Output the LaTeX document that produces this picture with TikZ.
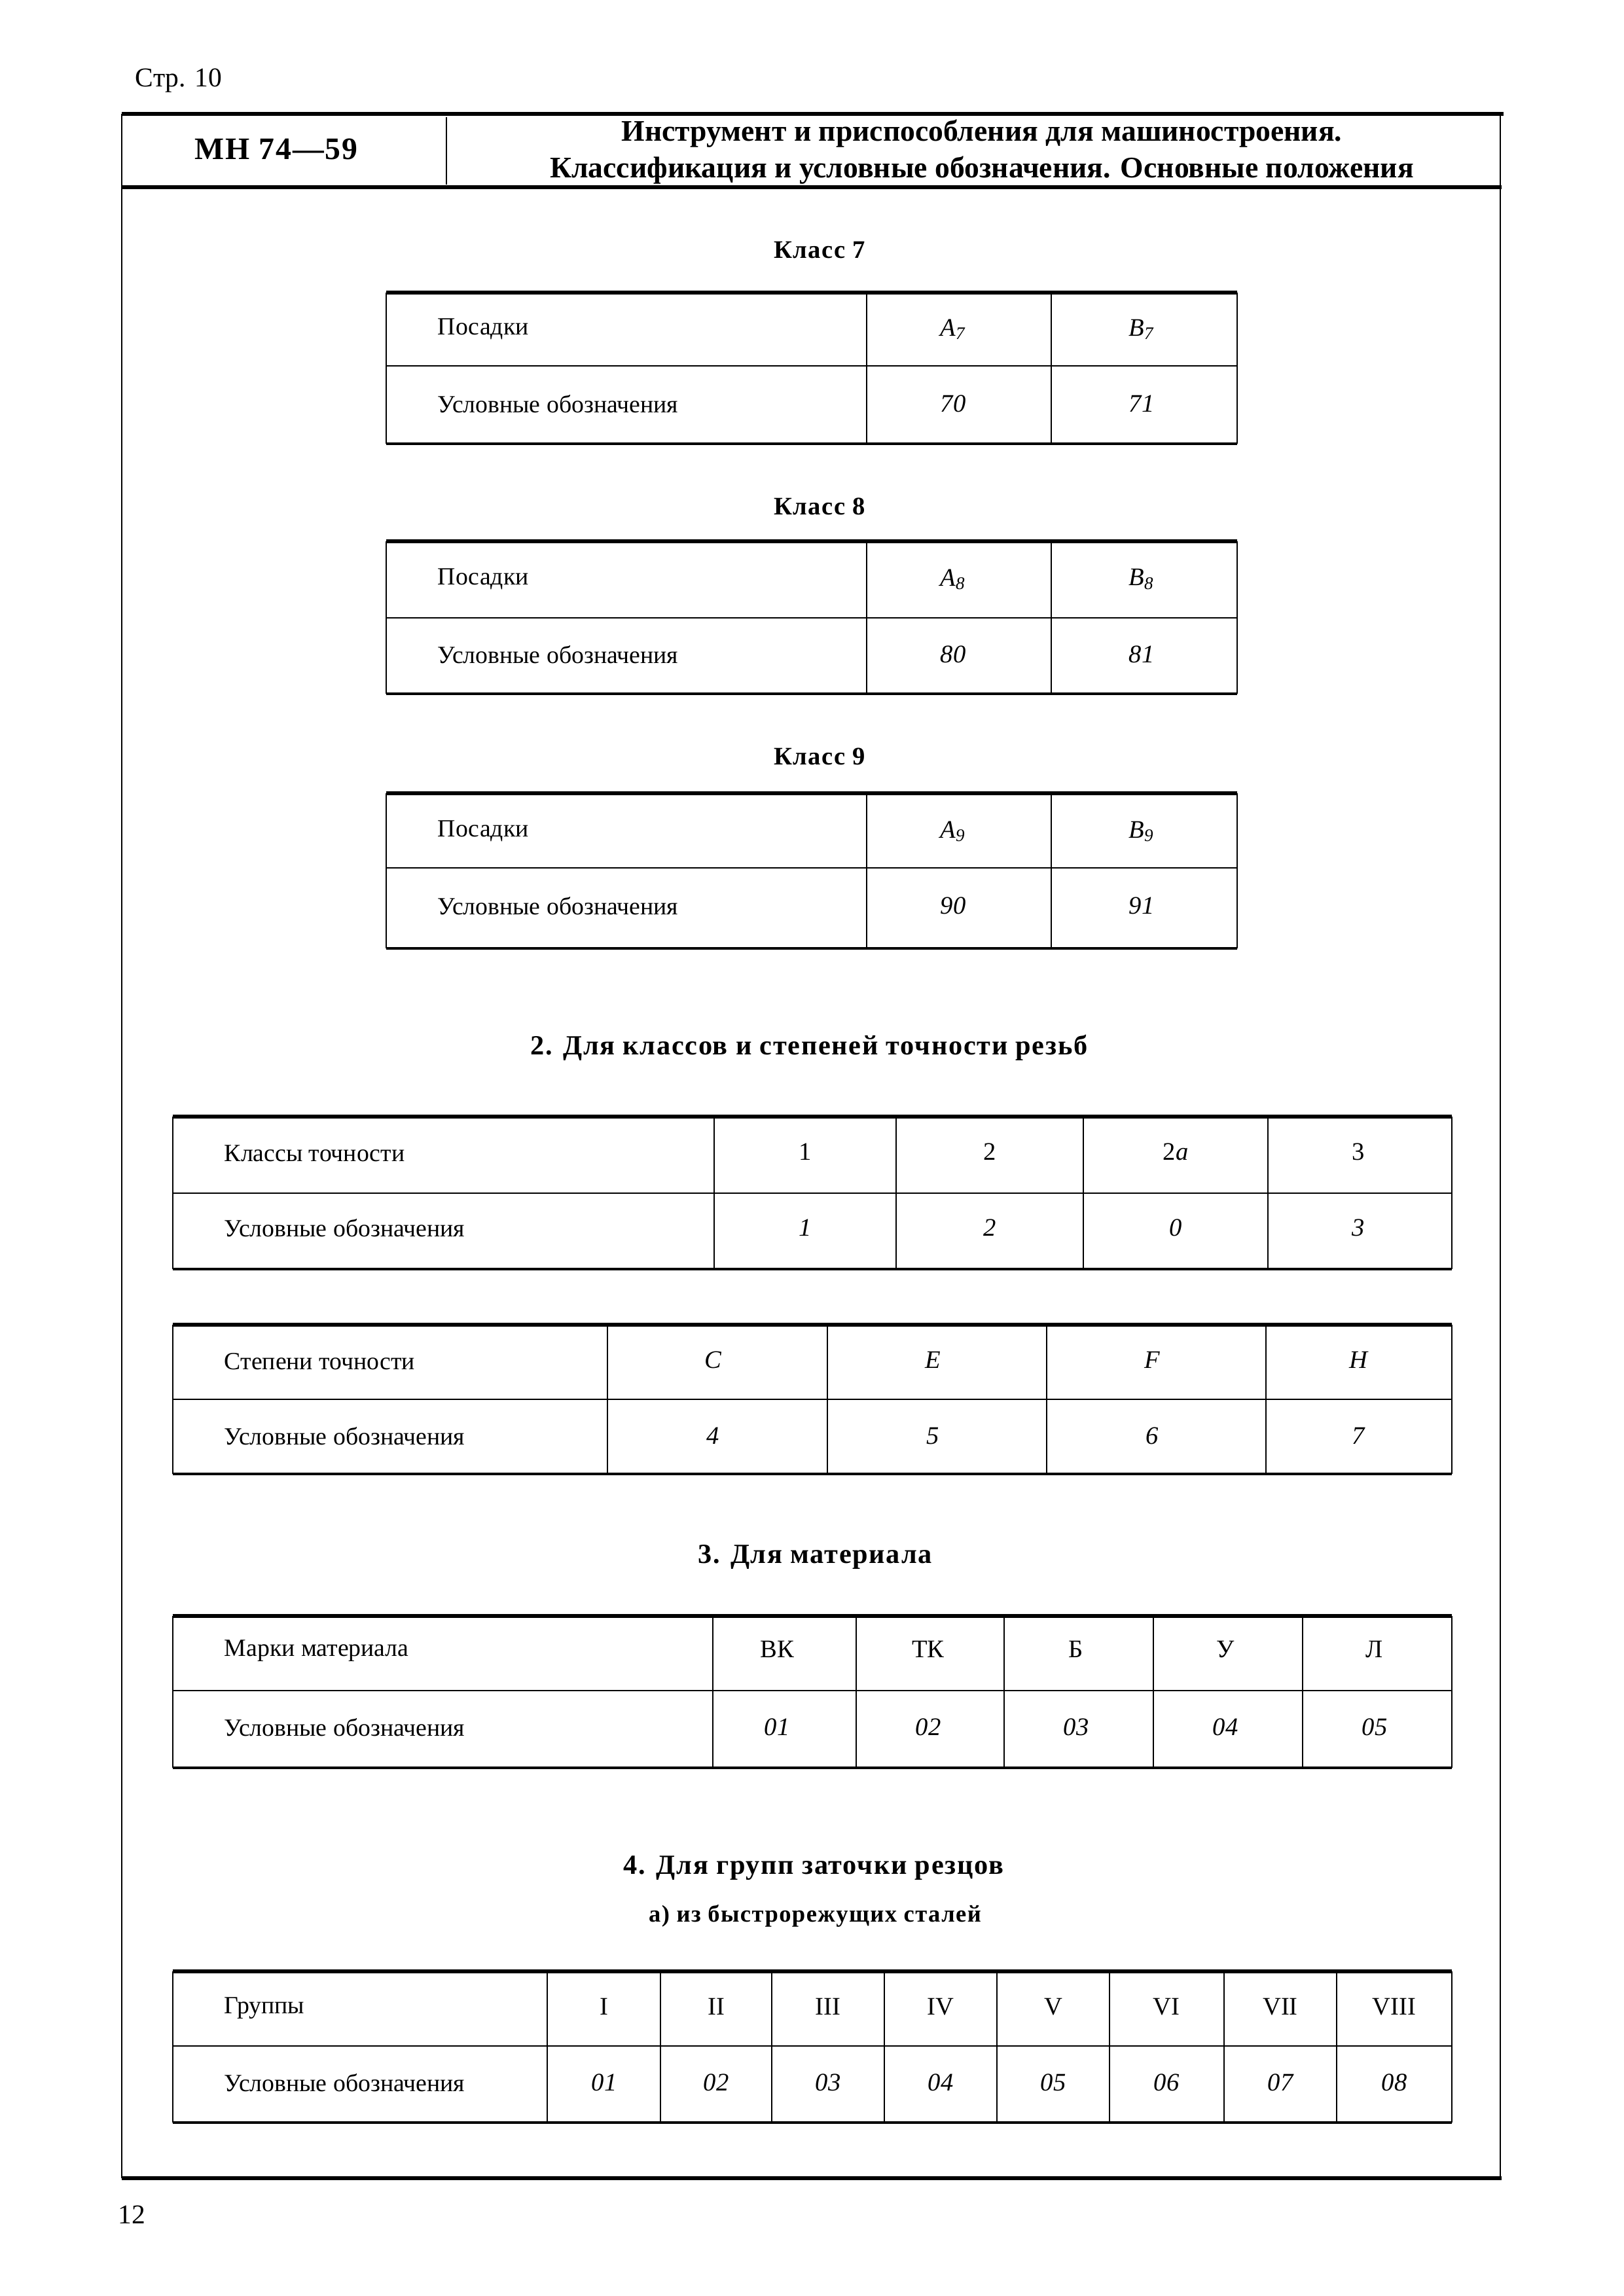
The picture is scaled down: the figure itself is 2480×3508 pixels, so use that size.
\documentclass[tikz,border=0pt]{standalone}
\usepackage{fontspec}
\setmainfont{Liberation Serif}
\newfontfamily\spfont[LetterSpace=4]{Liberation Serif}
\usepackage{tikz}

\tikzset{
  toprule/.style={line width=1.3pt},
  midrule/.style={line width=0.45pt},
  botrule/.style={line width=0.8pt},
  frame/.style={line width=0.7pt},
  lbl/.style={anchor=west, inner sep=0pt, font=\fontsize{9.1}{11}\selectfont},
  val/.style={font=\fontsize{9.3}{11}\selectfont\itshape},
  rom/.style={font=\fontsize{9.3}{11}\selectfont},
  head/.style={font=\fontsize{9.3}{12}\selectfont\spfont\bfseries},
  sect/.style={font=\fontsize{10.2}{12}\selectfont\spfont\bfseries}
}

\begin{document}
\begin{tikzpicture}[x=0.0084677cm, y=-0.0084677cm]
\useasboundingbox (0,0) rectangle (2480,3508);

% page frame and header
\node[font=\fontsize{10}{12}\selectfont] (page) at (273,123) {Стр. 10};
\draw[toprule] (186,174) -- (2297,174);
\draw[toprule] (186,286) -- (2294,286);
\draw[frame] (186,174) -- (186,3328);
\draw[frame] (2292,174) -- (2292,3328);
\draw[line width=1.5pt] (186,3328) -- (2294,3328);
\draw[frame] (682,179) -- (682,282);
\node[font=\fontsize{11.5}{14}\selectfont\spfont\bfseries] (mn) at (422,228) {МН 74—59};
\node[font=\fontsize{11}{13.5}\selectfont\bfseries, align=center] (title) at (1500,232)
  {Инструмент и приспособления для машиностроения.\\Классификация и условные обозначения. Основные положения};
\node[font=\fontsize{10}{12}\selectfont] (num) at (201,3384) {12};

% Класс 7
\node[head] (k7) at (1252,382) {Класс 7};
\draw[toprule] (590,447) -- (1890,447);
\draw[midrule] (590,559) -- (1890,559);
\draw[botrule] (590,678) -- (1890,678);
\draw[midrule] (590,447) -- (590,678);
\draw[midrule] (1324,447) -- (1324,678);
\draw[midrule] (1606,447) -- (1606,678);
\draw[midrule] (1890,447) -- (1890,678);
\node[lbl] (p7) at (668,503) {Посадки};
\node[lbl] (u7) at (668,617) {Условные обозначения};
\node[val] (a7) at (1456,503) {A\textsubscript{7}};
\node[val] (b7) at (1744,503) {B\textsubscript{7}};
\node[val] (c70) at (1456,617) {70};
\node[val] (c71) at (1744,617) {71};

% Класс 8
\node[head] (k8) at (1252,774) {Класс 8};
\draw[toprule] (590,827) -- (1890,827);
\draw[midrule] (590,944) -- (1890,944);
\draw[botrule] (590,1060) -- (1890,1060);
\draw[midrule] (590,827) -- (590,1060);
\draw[midrule] (1324,827) -- (1324,1060);
\draw[midrule] (1606,827) -- (1606,1060);
\draw[midrule] (1890,827) -- (1890,1060);
\node[lbl] (p8) at (668,885) {Посадки};
\node[lbl] (u8) at (668,1000) {Условные обозначения};
\node[val] (a8) at (1456,885) {A\textsubscript{8}};
\node[val] (b8) at (1744,885) {B\textsubscript{8}};
\node[val] (c80) at (1456,1000) {80};
\node[val] (c81) at (1744,1000) {81};

% Класс 9
\node[head] (k9) at (1252,1156) {Класс 9};
\draw[toprule] (590,1212) -- (1890,1212);
\draw[midrule] (590,1326) -- (1890,1326);
\draw[botrule] (590,1449) -- (1890,1449);
\draw[midrule] (590,1212) -- (590,1449);
\draw[midrule] (1324,1212) -- (1324,1449);
\draw[midrule] (1606,1212) -- (1606,1449);
\draw[midrule] (1890,1212) -- (1890,1449);
\node[lbl] (p9) at (668,1270) {Посадки};
\node[lbl] (u9) at (668,1384) {Условные обозначения};
\node[val] (a9) at (1456,1270) {A\textsubscript{9}};
\node[val] (b9) at (1744,1270) {B\textsubscript{9}};
\node[val] (c90) at (1456,1384) {90};
\node[val] (c91) at (1744,1384) {91};

% 2. классы и степени точности
\node[sect] (s2) at (1236,1601) {2. Для классов и степеней точности резьб};
\draw[toprule] (264,1706) -- (2218,1706);
\draw[midrule] (264,1823) -- (2218,1823);
\draw[botrule] (264,1939) -- (2218,1939);
\draw[midrule] (264,1706) -- (264,1939);
\draw[midrule] (1091,1706) -- (1091,1939);
\draw[midrule] (1369,1706) -- (1369,1939);
\draw[midrule] (1655,1706) -- (1655,1939);
\draw[midrule] (1937,1706) -- (1937,1939);
\draw[midrule] (2218,1706) -- (2218,1939);
\node[lbl] (kt) at (342,1762) {Классы точности};
\node[lbl] (ukt) at (342,1876) {Условные обозначения};
\node[rom] (k1) at (1230,1760) {1};
\node[rom] (k2) at (1512,1760) {2};
\node[rom] (k2a) at (1796,1760) {2\textit{a}};
\node[rom] (k3) at (2075,1760) {3};
\node[val] (o1) at (1230,1876) {1};
\node[val] (o2) at (1512,1876) {2};
\node[val] (o0) at (1796,1876) {0};
\node[val] (o3) at (2075,1876) {3};

\draw[toprule] (264,2024) -- (2218,2024);
\draw[midrule] (264,2138) -- (2218,2138);
\draw[botrule] (264,2252) -- (2218,2252);
\draw[midrule] (264,2024) -- (264,2252);
\draw[midrule] (928,2024) -- (928,2252);
\draw[midrule] (1264,2024) -- (1264,2252);
\draw[midrule] (1599,2024) -- (1599,2252);
\draw[midrule] (1934,2024) -- (1934,2252);
\draw[midrule] (2218,2024) -- (2218,2252);
\node[lbl] (st) at (342,2080) {Степени точности};
\node[lbl] (ust) at (342,2194) {Условные обозначения};
\node[val] (gC) at (1089,2078) {C};
\node[val] (gE) at (1425,2078) {E};
\node[val] (gF) at (1760,2078) {F};
\node[val] (gH) at (2075,2078) {H};
\node[val] (o4) at (1089,2194) {4};
\node[val] (o5) at (1425,2194) {5};
\node[val] (o6) at (1760,2194) {6};
\node[val] (o7) at (2075,2194) {7};

% 3. материал
\node[sect] (s3) at (1245,2379) {3. Для материала};
\draw[toprule] (264,2469) -- (2218,2469);
\draw[midrule] (264,2583) -- (2218,2583);
\draw[botrule] (264,2701) -- (2218,2701);
\draw[midrule] (264,2469) -- (264,2701);
\draw[midrule] (1089,2469) -- (1089,2701);
\draw[midrule] (1308,2469) -- (1308,2701);
\draw[midrule] (1534,2469) -- (1534,2701);
\draw[midrule] (1762,2469) -- (1762,2701);
\draw[midrule] (1990,2469) -- (1990,2701);
\draw[midrule] (2218,2469) -- (2218,2701);
\node[lbl] (mm) at (342,2522) {Марки материала};
\node[lbl] (umm) at (342,2639) {Условные обозначения};
\node[rom] (mVK) at (1187,2520) {ВК};
\node[rom] (mTK) at (1418,2520) {ТК};
\node[rom] (mB) at (1644,2520) {Б};
\node[rom] (mU) at (1872,2520) {У};
\node[rom] (mL) at (2100,2520) {Л};
\node[val] (m01) at (1187,2639) {01};
\node[val] (m02) at (1418,2639) {02};
\node[val] (m03) at (1644,2639) {03};
\node[val] (m04) at (1872,2639) {04};
\node[val] (m05) at (2100,2639) {05};

% 4. группы заточки
\node[sect] (s4) at (1243,2854) {4. Для групп заточки резцов};
\node[head, font=\fontsize{8.8}{11}\selectfont\spfont\bfseries] (s4a) at (1245,2927) {а) из быстрорежущих сталей};
\draw[toprule] (264,3012) -- (2218,3012);
\draw[midrule] (264,3126) -- (2218,3126);
\draw[botrule] (264,3243) -- (2218,3243);
\draw[midrule] (264,3012) -- (264,3243);
\draw[midrule] (836,3012) -- (836,3243);
\draw[midrule] (1009,3012) -- (1009,3243);
\draw[midrule] (1179,3012) -- (1179,3243);
\draw[midrule] (1351,3012) -- (1351,3243);
\draw[midrule] (1523,3012) -- (1523,3243);
\draw[midrule] (1695,3012) -- (1695,3243);
\draw[midrule] (1870,3012) -- (1870,3243);
\draw[midrule] (2042,3012) -- (2042,3243);
\draw[midrule] (2218,3012) -- (2218,3243);
\node[lbl] (gr) at (342,3068) {Группы};
\node[lbl] (ugr) at (342,3182) {Условные обозначения};
\node[rom] (r1) at (923,3066) {I};
\node[rom] (r2) at (1094,3066) {II};
\node[rom] (r3) at (1265,3066) {III};
\node[rom] (r4) at (1437,3066) {IV};
\node[rom] (r5) at (1609,3066) {V};
\node[rom] (r6) at (1782,3066) {VI};
\node[rom] (r7) at (1956,3066) {VII};
\node[rom] (r8) at (2130,3066) {VIII};
\node[val] (g01) at (923,3182) {01};
\node[val] (g02) at (1094,3182) {02};
\node[val] (g03) at (1265,3182) {03};
\node[val] (g04) at (1437,3182) {04};
\node[val] (g05) at (1609,3182) {05};
\node[val] (g06) at (1782,3182) {06};
\node[val] (g07) at (1956,3182) {07};
\node[val] (g08) at (2130,3182) {08};
\end{tikzpicture}
\end{document}
